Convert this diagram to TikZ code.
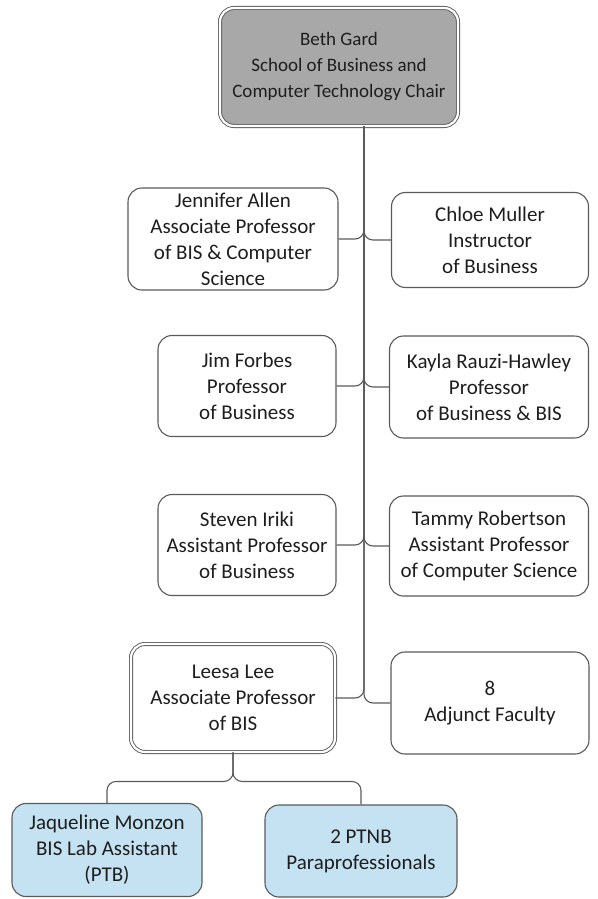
\documentclass[tikz,border=0pt]{standalone}
\usepackage{fontspec}
\setmainfont{Carlito}
\definecolor{chairgray}{RGB}{168,168,168}
\definecolor{labblue}{RGB}{196,226,242}
\definecolor{linegray}{RGB}{90,90,90}
\definecolor{textgray}{RGB}{30,30,30}
\tikzset{
  staffbox/.style={draw=linegray, line width=1.1pt, rounded corners=14pt, fill=white,
    align=center, text=textgray, font=\fontsize{21}{26}\selectfont, inner sep=0pt},
  chairbox/.style={staffbox, double=white, double distance=2.2pt, line width=0.9pt, fill=chairgray,
    font=\fontsize{19}{26}\selectfont},
  leadbox/.style={staffbox, double=white, double distance=2.2pt, line width=0.9pt},
  labbox/.style={staffbox, fill=labblue},
  link/.style={draw=linegray, line width=1.1pt, rounded corners=9pt}
}
\begin{document}
\begin{tikzpicture}[x=1pt,y=-1pt]
  \useasboundingbox (0,0) rectangle (597,899);

  % Chair
  \node[chairbox, minimum width=238pt, minimum height=118pt] (chair) at (339,67)
    {Beth Gard\\School of Business and\\Computer Technology Chair};
  \coordinate (trunk) at ([xshift=25pt]chair.south);

  % Left column
  \node[staffbox, minimum width=210pt, minimum height=102pt] (allen) at (233,239)
    {Jennifer Allen\\Associate Professor\\of BIS \& Computer\\Science};
  \node[staffbox, minimum width=178pt, minimum height=101pt] (forbes) at (247,386)
    {Jim Forbes\\Professor\\of Business};
  \node[staffbox, minimum width=178pt, minimum height=101pt] (iriki) at (247,545)
    {Steven Iriki\\Assistant Professor\\of Business};
  \node[leadbox, minimum width=204pt, minimum height=108pt] (lee) at (233,698)
    {Leesa Lee\\Associate Professor\\of BIS};

  % Right column
  \node[staffbox, minimum width=197pt, minimum height=95pt] (muller) at (490,240)
    {Chloe Muller\\Instructor\\of Business};
  \node[staffbox, minimum width=199pt, minimum height=102pt] (rauzi) at (489,387)
    {Kayla Rauzi-Hawley\\Professor\\of Business \& BIS};
  \node[staffbox, minimum width=199pt, minimum height=100pt] (robertson) at (489,546)
    {Tammy Robertson\\Assistant Professor\\of Computer Science};
  \node[staffbox, minimum width=198pt, minimum height=102pt] (adjunct) at (490,703)
    {8\\Adjunct Faculty};

  % Lab staff
  \node[labbox, minimum width=190pt, minimum height=93pt] (monzon) at (107,850)
    {Jaqueline Monzon\\BIS Lab Assistant\\(PTB)};
  \node[labbox, minimum width=192pt, minimum height=92pt] (ptnb) at (361,851)
    {2 PTNB\\Paraprofessionals};

  % Trunk to faculty
  \foreach \who in {allen, forbes, iriki, lee}
    \draw[link] (trunk) |- (\who.east);
  \foreach \who in {muller, rauzi, robertson, adjunct}
    \draw[link] (trunk) |- (\who.west);

  % Lead to lab staff
  \draw[link] (lee.south) -- ++(0,29) -| (monzon.north);
  \draw[link] (lee.south) -- ++(0,29) -| (ptnb.north);

\end{tikzpicture}
\end{document}
